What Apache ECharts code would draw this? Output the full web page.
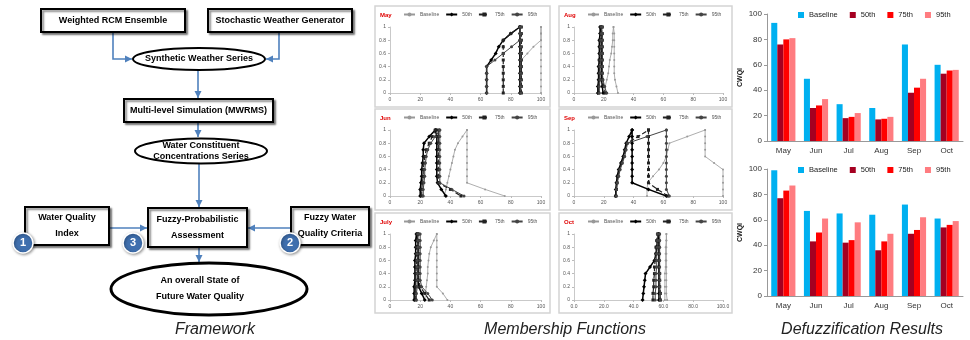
<!DOCTYPE html>
<html>
<head>
<meta charset="utf-8">
<script src="https://cdn.jsdelivr.net/npm/echarts@6/dist/echarts.min.js"></script>
<style>
  html, body { margin: 0; background: #fff; }
  #chart { width: 970px; height: 340px; }
</style>
</head>
<body>
<div id="chart"></div>
<script>
// ---- data ----
const months = ["May", "Jun", "Jul", "Aug", "Sep", "Oct"];
const seriesNames = ["Baseline", "50th", "75th", "95th"];
const barColors = ["#00B0F0", "#A50021", "#FF0000", "#FF7C80"];

// defuzzified CWQI, top chart
const topBaseline = [93, 49, 29, 26, 76, 60];
const top50 = [76, 26, 18, 17, 38, 53];
const top75 = [80, 28, 19, 17.5, 42, 55.5];
const top95 = [81, 33, 22, 19, 49, 56];
// defuzzified CWQI, bottom chart
const botBaseline = [99, 67, 65, 64, 72, 61];
const bot50 = [77, 43, 42, 36, 49, 54];
const bot75 = [83, 50, 44, 43, 52, 56];
const bot95 = [87, 61, 58, 49, 62, 59];

// membership functions: alpha levels, then per month [left x (alpha 0->1), right x (alpha 1->0)]
// for Baseline, 50th, 75th, 95th
const alpha = [0, 0.1, 0.2, 0.3, 0.4, 0.5, 0.6, 0.7, 0.8, 0.9, 1];
const mfMay = [
  [[87, 87, 87, 87, 87, 87, 91, 95, 100, 100, 100], [100, 100, 100, 100, 100, 100, 100, 100, 100, 100, 100]],
  [[64, 64, 64, 64, 64, 67, 70, 72, 75, 80, 86], [86, 86, 86, 86, 86, 86, 86, 86, 86, 86, 86]],
  [[75, 75, 75, 75, 75, 75, 75, 75, 75, 80, 86], [87, 87, 87, 87, 87, 87, 87, 87, 87, 87, 87]],
  [[64, 64, 64, 64, 64, 69.5, 75, 80.5, 86, 86, 86], [86.5, 86.5, 86.5, 86.5, 86.5, 86.5, 86.5, 86.5, 86.5, 86.5, 86.5]]
];
const mfAug = [
  [[20, 21, 22, 23, 23.5, 24, 25, 25.5, 26, 26, 26.5], [26.5, 27, 27, 27, 27, 27, 27, 27, 27.5, 28.5, 29.5]],
  [[16, 16, 16.5, 16.5, 16.5, 17, 17, 17, 17, 17.5, 17.5], [18.5, 18.5, 18.5, 18.5, 18.5, 18.5, 18.5, 18.5, 18.5, 19, 19.5]],
  [[16.5, 16.5, 17, 17, 17, 17, 17.5, 17.5, 17.5, 18, 18], [19, 19, 19, 19, 19, 19, 19, 19, 19, 20, 21]],
  [[17, 17, 17.5, 17.5, 17.5, 18, 18, 18, 18, 18.5, 18.5], [19, 19, 19, 19, 19, 19, 19, 19, 19.5, 20.5, 22]]
];
const mfJun = [
  [[36, 37, 38, 39, 40, 41, 42, 43, 45, 48, 51], [51, 51, 51, 51, 51, 51, 51, 51, 51, 63, 76]],
  [[20, 20, 20.5, 21, 21, 21.5, 22, 22, 22.5, 26, 30], [30.5, 31, 31, 31, 31, 31, 31, 31, 31.5, 34, 37]],
  [[21, 21, 21.5, 22, 22, 22.5, 23, 24, 26, 28, 30], [32, 32, 32, 32, 32, 32, 32, 32, 32, 40, 47]],
  [[22, 22, 22.5, 23, 23, 23.5, 24, 25, 27, 30, 33], [33, 33, 33, 33, 33, 33, 33, 33, 33, 41, 49]]
];
const mfSep = [
  [[49, 49, 49.5, 53, 57, 60, 62, 63, 64, 76, 88], [88, 88, 88, 88, 88, 94, 100, 100, 100, 100, 100]],
  [[28, 28, 28.5, 29, 30, 31.5, 33, 34, 35, 37, 39], [39, 39, 39, 39, 39, 39, 39, 39, 39, 50, 62]],
  [[28, 28.5, 29, 29.5, 30.5, 32, 33.5, 34.5, 35.5, 43, 50], [50, 50, 50, 50, 50, 50, 50, 50, 50, 56, 63]],
  [[28.5, 28.5, 29, 30, 31, 32.5, 34, 35, 36, 49, 62], [62, 62, 62, 62, 62, 62, 62, 62, 62, 62, 64]]
];
const mfJul = [
  [[23, 23.5, 24, 24.5, 25, 25, 25.5, 26, 27, 29, 31], [31, 31, 31, 31, 31, 31, 31, 31, 31, 35, 38]],
  [[16, 16, 16, 16.5, 16.5, 16.5, 16.5, 17, 17, 17, 17.5], [18.5, 18.5, 18.5, 18.5, 18.5, 18.5, 18.5, 18.5, 19, 21, 23]],
  [[17, 17, 17, 17, 17, 17.5, 17.5, 17.5, 17.5, 18, 18], [19, 19, 19, 19, 19, 19, 19, 19, 20, 23, 26]],
  [[17.5, 17.5, 18, 18, 18, 18, 18, 18, 18.5, 18.5, 18.5], [20, 20, 20, 20, 20, 20, 20, 20, 21, 25, 28]]
];
const mfOct = [
  [[61, 61, 61, 61, 61, 61.5, 61.5, 61.5, 61.5, 62, 62], [62, 62, 62, 62, 62, 62, 62, 62, 62, 62, 62.5]],
  [[46, 46.5, 47, 47.5, 48, 51, 54, 55, 55.5, 56, 56.5], [57, 57, 57, 57, 57, 57, 57, 57, 57, 57, 57]],
  [[53, 53, 53.5, 53.5, 54, 54, 54.5, 55, 55, 55.5, 56], [57, 57, 57, 57, 57, 57, 57.5, 57.5, 57.5, 58, 58]],
  [[54.5, 54.5, 55, 55, 55, 55.5, 55.5, 55.5, 56, 56, 56], [57.5, 57.5, 57.5, 57.5, 57.5, 57.5, 57.5, 57.5, 57.5, 58, 58]]
];
const panelTitles = ["May", "Aug", "Jun", "Sep", "July", "Oct"];
const panelData = [mfMay, mfAug, mfJun, mfSep, mfJul, mfOct];

// ---- styling ----
const mfStyles = [
  { color: "#999", width: 0.8, type: "solid", symbol: "circle", size: 2 },
  { color: "#000", width: 1.5, type: "solid", symbol: "diamond", size: 4 },
  { color: "#222", width: 1.2, type: "dashed", symbol: "rect", size: 3 },
  { color: "#444", width: 1, type: "solid", symbol: "circle", size: 3 },
];
const flowFont = "'Liberation Sans', Arial, sans-serif";
const capFont = "'Liberation Sans', Arial, sans-serif";
const arrowColor = "#4F81BD";

function mfPoints(left, right) {
  const up = left.map((x, i) => [x, alpha[i]]);
  const down = right.map((x, i) => [x, alpha[10 - i]]);
  return up.concat(down);
}

const grids = [], xAxes = [], yAxes = [], series = [], legends = [], graphics = [];

// membership function panels
panelTitles.forEach((title, i) => {
  const col = i % 2, row = Math.floor(i / 2);
  const fx = col ? 559 : 375, fw = col ? 173 : 175;
  const fy = [6, 109, 213][row], fh = row === 2 ? 100 : 101;
  graphics.push({
    type: "rect", shape: { x: fx, y: fy, width: fw, height: fh },
    style: { fill: null, stroke: "#d4d4d4", lineWidth: 1.5 },
  });
  graphics.push({
    type: "text", x: fx + 5, y: fy + 9,
    style: { text: title, fill: "#E00000", font: "bold 6px " + capFont, verticalAlign: "middle" },
  });
  grids.push({ left: fx + 15, top: fy + 21, width: fw - 24, height: 66 });
  xAxes.push({
    type: "value", gridIndex: i, min: 0, max: 100, interval: 20,
    axisLine: { lineStyle: { color: "#bbb", width: 0.8 } },
    axisTick: { length: 2, lineStyle: { color: "#bbb" } },
    splitLine: { show: false },
    axisLabel: {
      fontSize: 5, color: "#555", margin: 4, fontFamily: capFont,
      formatter: (v) => (title === "Oct" ? v.toFixed(1) : String(v)),
    },
  });
  yAxes.push({
    type: "value", gridIndex: i, min: 0, max: 1, interval: 0.2,
    axisLine: { show: true, lineStyle: { color: "#bbb", width: 0.8 } },
    axisTick: { show: true, length: 2, lineStyle: { color: "#bbb" } },
    splitLine: { show: false },
    axisLabel: { fontSize: 5, color: "#555", margin: 4, fontFamily: capFont },
  });
  panelData[i].forEach((pair, k) => {
    const st = mfStyles[k];
    series.push({
      name: "m-" + seriesNames[k],
      type: "line", xAxisIndex: i, yAxisIndex: i,
      data: mfPoints(pair[0], pair[1]),
      symbol: st.symbol, symbolSize: st.size, showSymbol: true,
      lineStyle: { color: st.color, width: st.width, type: st.type },
      itemStyle: { color: st.color },
      z: k === 0 ? 2 : 3,
    });
  });
  legends.push({
    left: fx + 28, top: fy + 6, padding: 0, itemWidth: 11, itemHeight: 5, itemGap: 6,
    data: seriesNames.map((n) => "m-" + n),
    formatter: (n) => n.slice(2),
    textStyle: { fontSize: 5, color: "#555", fontFamily: capFont },
  });
});

// defuzzification bar charts
const barSets = [
  [topBaseline, top50, top75, top95],
  [botBaseline, bot50, bot75, bot95],
];
[[14, 767], [169, 767]].forEach(([top, left], j) => {
  const gi = grids.length;
  grids.push({ left: left, top: top, width: 196, height: 127 });
  xAxes.push({
    type: "category", gridIndex: gi, data: months,
    axisLine: { lineStyle: { color: "#999" } },
    axisTick: { length: 3, lineStyle: { color: "#999" } },
    axisLabel: { fontSize: 8, color: "#333", margin: 6, fontFamily: capFont },
  });
  yAxes.push({
    type: "value", gridIndex: gi, min: 0, max: 100, interval: 20,
    name: "CWQI", nameLocation: "middle", nameGap: 23,
    nameTextStyle: { fontSize: 7, fontWeight: "bold", color: "#222", fontFamily: capFont },
    axisLine: { show: true, lineStyle: { color: "#999" } },
    axisTick: { show: true, length: 3, lineStyle: { color: "#999" } },
    splitLine: { show: false },
    axisLabel: { fontSize: 8, color: "#333", margin: 5, fontFamily: capFont },
  });
  barSets[j].forEach((vals, k) => {
    series.push({
      name: seriesNames[k], type: "bar", xAxisIndex: gi, yAxisIndex: gi,
      data: vals, barGap: "0%", barCategoryGap: "26%",
      itemStyle: { color: barColors[k] },
    });
  });
  legends.push({
    left: 798, top: top - 3, padding: 0, icon: "rect", itemWidth: 6, itemHeight: 6, itemGap: 12,
    data: seriesNames,
    textStyle: { fontSize: 7.5, color: "#222", fontFamily: capFont },
  });
});

// ---- framework flowchart ----
function box(x, y, w, h, lines, lh) {
  graphics.push({
    type: "rect", shape: { x: x, y: y, width: w, height: h },
    style: {
      fill: "#fff", stroke: "#000", lineWidth: 2,
      shadowBlur: 2, shadowOffsetX: 2, shadowOffsetY: 2, shadowColor: "rgba(0,0,0,0.45)",
    },
  });
  label(x + w / 2, y + h / 2, lines, lh);
}
function oval(cx, cy, rx, ry, lines, lh, lw, tx) {
  graphics.push({
    type: "ellipse", shape: { cx: cx, cy: cy, rx: rx, ry: ry },
    style: { fill: "#fff", stroke: "#000", lineWidth: lw || 2 },
  });
  label(tx || cx, cy, lines, lh);
}
function label(cx, cy, lines, lh) {
  graphics.push({
    type: "text", x: cx, y: cy,
    style: {
      text: lines.join("\n"), font: "bold 9px " + flowFont, fill: "#000",
      align: "center", verticalAlign: "middle", lineHeight: lh || 12,
    },
  });
}
function arrow(points) {
  graphics.push({
    type: "polyline", shape: { points: points },
    style: { stroke: arrowColor, lineWidth: 1.6, fill: null },
  });
  const [x1, y1] = points[points.length - 2];
  const [x2, y2] = points[points.length - 1];
  const a = Math.atan2(y2 - y1, x2 - x1), L = 7, W = 3.5;
  const bx = x2 - L * Math.cos(a), by = y2 - L * Math.sin(a);
  graphics.push({
    type: "polygon",
    shape: { points: [[x2, y2], [bx - W * Math.sin(a), by + W * Math.cos(a)], [bx + W * Math.sin(a), by - W * Math.cos(a)]] },
    style: { fill: arrowColor },
  });
}
function badge(cx, cy, n) {
  graphics.push({
    type: "circle", shape: { cx: cx, cy: cy, r: 10 },
    style: {
      fill: "#3F6FAE", stroke: "#fff", lineWidth: 1.5,
      shadowBlur: 3, shadowOffsetX: 1, shadowOffsetY: 1, shadowColor: "rgba(0,0,0,0.4)",
    },
  });
  graphics.push({
    type: "text", x: cx, y: cy,
    style: { text: n, font: "bold 11px " + capFont, fill: "#fff", align: "center", verticalAlign: "middle" },
  });
}

arrow([[113, 32], [113, 59], [132, 59]]);
arrow([[279, 32], [279, 59], [266, 59]]);
arrow([[198, 70], [198, 98]]);
arrow([[198, 122], [198, 137]]);
arrow([[199, 163], [199, 207]]);
arrow([[109, 228], [147, 228]]);
arrow([[291, 228], [248, 228]]);
arrow([[199, 247], [199, 262]]);

box(41, 9, 144, 23, ["Weighted RCM Ensemble"]);
box(208, 9, 144, 23, ["Stochastic Weather Generator"]);
oval(199, 59, 66, 11, ["Synthetic Weather Series"]);
box(124, 99, 149, 23, ["Multi-level Simulation (MWRMS)"]);
oval(201, 151, 66, 12.5, ["Water Constituent", "Concentrations Series"], 11);
box(148, 208, 99, 39, ["Fuzzy-Probabilistic", "Assessment"], 16);
box(25, 207, 84, 38, ["Water Quality", "Index"], 16);
box(291, 207, 78, 38, ["Fuzzy Water", "Quality Criteria"], 16);
oval(209, 289, 98, 26, ["An overall State of", "Future Water Quality"], 16, 3, 200);
badge(23, 243, "1");
badge(133, 243, "3");
badge(290, 243, "2");

// captions
[["Framework", 215], ["Membership Functions", 565], ["Defuzzification Results", 862]].forEach(([t, x]) => {
  graphics.push({
    type: "text", x: x, y: 330,
    style: { text: t, font: "italic 16px " + capFont, fill: "#222", align: "center", verticalAlign: "middle" },
  });
});

const chart = echarts.init(document.getElementById("chart"));
chart.setOption({
  animation: false,
  backgroundColor: "#fff",
  grid: grids,
  xAxis: xAxes,
  yAxis: yAxes,
  legend: legends,
  series: series,
  graphic: graphics,
});
</script>
</body>
</html>
